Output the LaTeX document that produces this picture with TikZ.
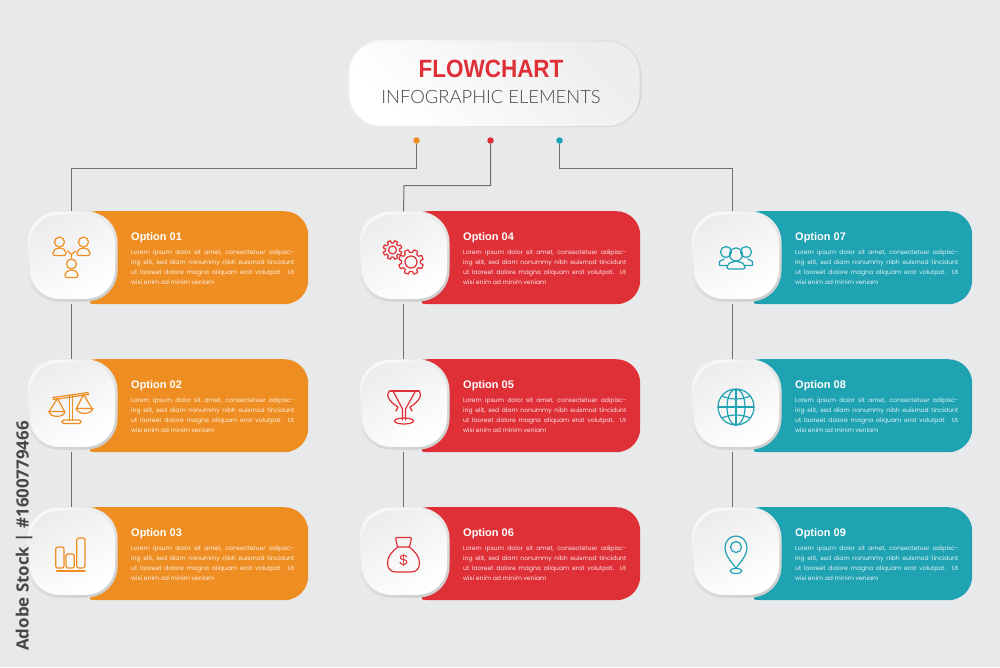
\documentclass[tikz,border=0pt]{standalone}
\usepackage{fontspec}
\setmainfont{Liberation Sans}
\newfontfamily\poppinsf{Poppins}
\newfontfamily\ttlf[FakeStretch=0.9]{Liberation Sans}
\newfontfamily\subf{Lato Light}
\newfontfamily\wmf{Open Sans}
\definecolor{bgc}{HTML}{E8E9EB}
\definecolor{orangeC}{HTML}{EE8E22}
\definecolor{redC}{HTML}{DF3038}
\definecolor{tealC}{HTML}{1FA3B3}
\definecolor{lineC}{HTML}{6F6F6F}
\newcommand{\loremlines}{%
\parbox{163pt}{\fontsize{6.05pt}{10.1pt}\selectfont\poppinsf
\makebox[163pt][s]{Lorem ipsum dolor sit amet, consectetuer adipisc-}\\
\makebox[163pt][s]{ing elit, sed diam nonummy nibh euismod tincidunt}\\
\makebox[163pt][s]{ut laoreet dolore magna aliquam erat volutpat. Ut}\\
wisi enim ad minim veniam}}
\tikzset{
 x=1pt,y=-1pt,
 barbox/.style={rounded corners=24pt,minimum width=236pt,minimum height=93pt,inner sep=0pt,anchor=north west},
 ringbox/.style={rounded corners=31pt,minimum width=90pt,minimum height=90pt,inner sep=0pt,top color=white!94!gray,bottom color=black!19,shading angle=30},
 cardbox/.style={rounded corners=29pt,minimum width=85pt,minimum height=84pt,inner sep=0pt,top color=black!7,bottom color=white,shading angle=30},
 opttitle/.style={anchor=base west,inner sep=0pt,text=white,font=\fontsize{11pt}{13pt}\selectfont\bfseries},
 optbody/.style={anchor=north west,inner sep=0pt},
 dotbox/.style={circle,minimum size=6.5pt,inner sep=0pt},
 conn/.style={draw=lineC,line width=1pt},
 iconl/.style={line width=1.2pt,line join=round,line cap=round},
 pics/person/.style={code={
  \draw[iconl] (0,0) circle (5);
  \draw[iconl,rounded corners=2pt] (-6.5,13.5)--(-6.5,9)--(-2.5,6)--(2.5,6)--(6.5,9)--(6.5,13.5)--cycle;
 }},
}
\newcommand{\optioncard}[6]{% id, x offset, y top, colour, title
 \begin{scope}
  \clip (#2+90,#3) rectangle (#2+320,#3+93);
  \node[barbox,fill=#4] (bar#1) at (#2+72,#3) {};
 \end{scope}
 \node[ringbox] (ring#1) at (#2+72.5,#3+45.5) {};
 \node[cardbox] (card#1) at (#2+72.5,#3+45.8) {};
 \node[opttitle] (title#1) at (#2+131,#3+29.7) {#5};
 \node[optbody,text=#4!12!white] (body#1) at (#2+131,#3+38.2) {\loremlines};
}
\newcommand{\mygear}[5]{% cx cy r R hole
 \draw[iconl,shift={(#1,#2)}] (8:#3) \foreach \a in {0,45,...,315}{ -- (\a+8:#3) -- (\a+13:#4) -- (\a+32:#4) -- (\a+37:#3)} -- cycle;
 \draw[iconl] (#1,#2) circle (#5);
}
\begin{document}
\begin{tikzpicture}
\useasboundingbox (0,0) rectangle (1000,667);
\fill[bgc] (0,0) rectangle (1000,667);

% title box
\node[rounded corners=34pt,minimum width=293pt,minimum height=87pt,inner sep=0pt,top color=white!94!gray,bottom color=black!16,shading angle=30] (tring) at (495,83.5) {};
\node[rounded corners=32pt,minimum width=290pt,minimum height=84pt,inner sep=0pt,top color=black!7,bottom color=white,shading angle=-45] (tbox) at (494.5,84) {};
\node[inner sep=0pt,text=redC,font=\ttlf\bfseries\fontsize{25pt}{28pt}\selectfont] (t1) at (491,69) {FLOWCHART};
\node[inner sep=0pt,text=black!72,font=\subf\fontsize{18.4pt}{22pt}\selectfont] (t2) at (491,97) {INFOGRAPHIC ELEMENTS};

% cards
\optioncard{1}{0}{211}{orangeC}{Option 01}{}
\optioncard{2}{0}{359}{orangeC}{Option 02}{}
\optioncard{3}{0}{507}{orangeC}{Option 03}{}
\optioncard{4}{332}{211}{redC}{Option 04}{}
\optioncard{5}{332}{359}{redC}{Option 05}{}
\optioncard{6}{332}{507}{redC}{Option 06}{}
\optioncard{7}{664}{211}{tealC}{Option 07}{}
\optioncard{8}{664}{359}{tealC}{Option 08}{}
\optioncard{9}{664}{507}{tealC}{Option 09}{}

% dots and connectors
\node[dotbox,fill=orangeC] (d1) at (416.5,140.5) {};
\node[dotbox,fill=redC] (d2) at (490.5,140.5) {};
\node[dotbox,fill=tealC] (d3) at (559.5,140.5) {};
\coordinate (j1) at (71.5,168);
\coordinate (j2) at (404,185.5);
\coordinate (j3) at (732,168);
\draw[conn] (d1) |- (j1) -- ([xshift=-1pt]ring1.north);
\draw[conn] (d2) |- (j2) -- ([xshift=-1pt]ring4.north);
\draw[conn] (d3) |- (j3) -- ([xshift=-4.5pt]ring7.north);
\draw[conn] ([xshift=-1pt,yshift=-2pt]ring1.south) -- ([xshift=-1pt]ring2.north);
\draw[conn] ([xshift=-1pt,yshift=-2pt]ring2.south) -- ([xshift=-1pt]ring3.north);
\draw[conn] ([xshift=-1pt,yshift=-2pt]ring4.south) -- ([xshift=-1pt]ring5.north);
\draw[conn] ([xshift=-1pt,yshift=-2pt]ring5.south) -- ([xshift=-1pt]ring6.north);
\draw[conn] ([xshift=-4.5pt,yshift=-2pt]ring7.south) -- ([xshift=-4.5pt]ring8.north);
\draw[conn] ([xshift=-4.5pt,yshift=-2pt]ring8.south) -- ([xshift=-4.5pt]ring9.north);

% icon 1: people
\begin{scope}[color=orangeC]
 \pic at (59.5,242) {person};
 \pic at (83.5,242) {person};
 \pic at (71.5,264) {person};
 \draw[iconl] (67.5,251)--(71.5,254.5)--(75.5,251) (71.5,254.5)--(71.5,258);
\end{scope}
% icon 2: scales
\begin{scope}[color=orangeC]
 \draw[iconl] (53,397.5)--(88,392.5)--(88.5,394.5)--(53.5,399.5)--cycle;
 \draw[iconl] (69.5,395)--(69.5,420) (72.5,394.5)--(72.5,420);
 \draw[iconl,rounded corners=1.5pt] (62,420) rectangle (81,423.5);
 \draw[iconl] (49,411.5)--(57.5,398.5)--(64.5,411.5);
 \draw[iconl] (49,411.5)--(65,411.5) .. controls (64,418) and (50,418) .. (49,411.5);
 \draw[iconl] (76.5,408.5)--(83.5,394.5)--(92,408.5);
 \draw[iconl] (76,408.5)--(93,408.5) .. controls (91,415) and (78,415) .. (76,408.5);
\end{scope}
% icon 3: bars
\begin{scope}[color=orangeC]
 \draw[iconl,rounded corners=2pt] (55.7,547) rectangle (64,568);
 \draw[iconl,rounded corners=2pt] (66,554) rectangle (74.3,568);
 \draw[iconl,rounded corners=2pt] (76.7,538) rectangle (85,568);
 \draw[iconl,line width=1.6pt] (56.7,571)--(85,571);
\end{scope}
% icon 4: gears
\begin{scope}[color=redC]
 \mygear{392.5}{250}{7}{9.5}{4}
 \mygear{411}{262}{9.5}{12.5}{6}
\end{scope}
% icon 5: trophy
\begin{scope}[color=redC]
 \draw[iconl] (390,391)--(419,391);
 \draw[iconl] (393,391)--(402.5,409)--(402.5,420) (415.5,391)--(405.5,409)--(405.5,420);
 \draw[iconl] (389,391) .. controls (385,396) and (391,403) .. (398,407) (396,411)--(398,407);
 \draw[iconl] (419.5,391) .. controls (423,396) and (417,403) .. (410,407) (412,411)--(410,407);
 \draw[iconl] (404,421) ellipse (9.5 and 3);
\end{scope}
% icon 6: money bag
\begin{scope}[color=redC]
 \draw[iconl,rounded corners=1pt] (395.5,537.5)--(411.5,537.5)--(409.5,547)--(397.5,547)--cycle;
 \draw[iconl] (397.5,547) .. controls (392,552) and (387.5,556) .. (387.5,563) .. controls (387.5,569) and (391,572) .. (396,572) -- (411,572) .. controls (416,572) and (419.5,569) .. (419.5,563) .. controls (419.5,556) and (415,552) .. (409.5,547);
 \node[inner sep=0pt,text=redC,font=\fontsize{15pt}{16pt}\selectfont] (dollar) at (403.5,560) {\$};
\end{scope}
% icon 7: group
\begin{scope}[color=tealC]
 \draw[iconl] (726,252) circle (5.5) (746,252) circle (5.5) (736,254.5) circle (6.5);
 \draw[iconl] (727,265.5)--(719.5,265.5)--(719.5,261.5)--(724,259) (745,265.5)--(752.5,265.5)--(752.5,261.5)--(748,259);
 \draw[iconl,rounded corners=2pt] (727,269)--(727,265)--(732,261.5)--(740,261.5)--(745,265)--(745,269)--cycle;
\end{scope}
% icon 8: globe
\begin{scope}[color=tealC]
 \draw[iconl] (736,407) circle (18);
 \draw[iconl] (736,407) ellipse (9 and 18);
 \draw[iconl] (736,389)--(736,425) (718,407)--(754,407);
 \draw[iconl] (722,396) .. controls (730,400) and (742,400) .. (750,396);
 \draw[iconl] (722,418) .. controls (730,414) and (742,414) .. (750,418);
\end{scope}
% icon 9: pin
\begin{scope}[color=tealC]
 \draw[iconl] (736,568.5) .. controls (732,562) and (725,556) .. (725,547.5) .. controls (725,541) and (730,536) .. (736,536) .. controls (742,536) and (747,541) .. (747,547.5) .. controls (747,556) and (740,562) .. (736,568.5);
 \draw[iconl] (736,547) circle (5.5);
 \draw[iconl] (736,571) ellipse (6 and 2.5);
\end{scope}

% stock credit
\node[rotate=90,anchor=west,inner sep=0pt,text=black!72,font=\wmf\bfseries\fontsize{16.9pt}{19pt}\selectfont] (creditb) at (24,651) {Adobe Stock | \#1600779466};
\end{tikzpicture}
\end{document}
